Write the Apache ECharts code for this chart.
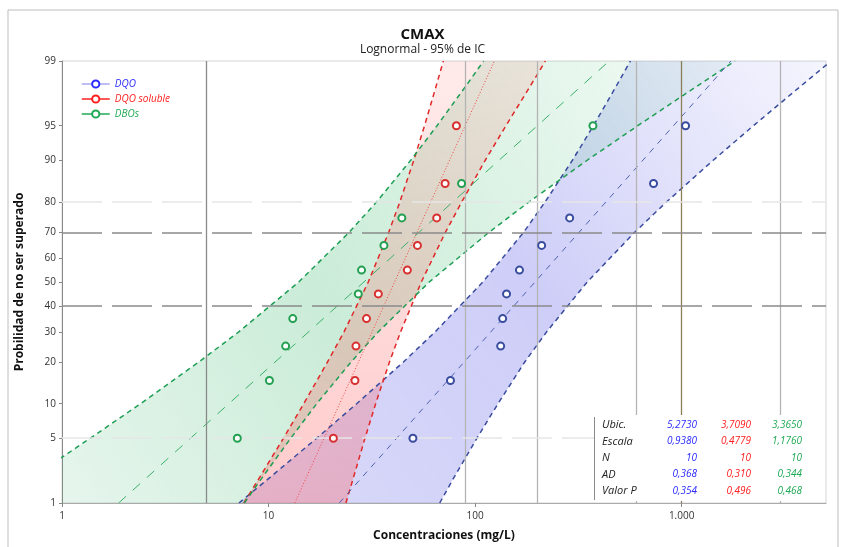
<!DOCTYPE html>
<html>
<head>
<meta charset="utf-8">
<title>CMAX</title>
<script src="https://cdn.jsdelivr.net/npm/echarts@6/dist/echarts.min.js"></script>
<style>
html, body { margin: 0; padding: 0; background: #fff; }
#main { width: 845px; height: 547px; }
</style>
</head>
<body>
<div id="main"></div>
<script>
// probabilidad (%) de cada punto
var probPuntos = [5, 15, 25, 35, 45, 55, 65, 75, 85, 95];
var dqo = [50, 76, 133, 136, 142, 164, 210, 287, 731, 1045];
var dqoSoluble = [20.6, 26.2, 26.5, 29.8, 34.0, 47.0, 52.6, 65.2, 71.6, 81.2];
var dbos = [7.06, 10.1, 12.1, 13.1, 27.2, 28.2, 36.2, 44.2, 86.0, 372];

var probAjuste = [1, 99];
var ajusteDqo = [22.0, 1730];
var ajusteSoluble = [13.4, 124];
var ajusteDbos = [1.88, 446];

// limites del IC 95%
var probBanda = [1, 2, 5, 10, 20, 30, 50, 70, 80, 90, 95, 98, 99];
var dqoInf = [7.19, 10.2, 17.1, 26.7, 45.0, 64.1, 109, 172, 218, 296, 374, 480, 565];
var dqoSup = [67.4, 79.2, 102, 129, 174, 222, 349, 593, 844, 1422, 2226, 3733, 5289];
var solInf = [7.59, 9.07, 11.8, 14.8, 19.3, 23.2, 30.4, 38.2, 43.2, 50.5, 56.9, 64.6, 70.2];
var solSup = [23.7, 25.8, 29.3, 33.0, 38.5, 43.6, 54.9, 71.9, 86.1, 112, 141, 184, 219];
var dbosInf = [0.46, 0.72, 1.37, 2.40, 4.60, 7.18, 14.0, 24.6, 33.3, 48.8, 65.4, 89.6, 110];
var dbosSup = [7.64, 9.35, 12.8, 17.1, 25.1, 34.0, 60.0, 117, 182, 349, 613, 1172, 1815];

var ticksY = [1, 5, 10, 20, 30, 40, 50, 60, 70, 80, 90, 95, 99];
var lineasX = [5, 90, 200, 600, 1000, 3000];
var lineasY = [80, 70, 40, 5];

var filasTabla = ['Ubic.', 'Escala', 'N', 'AD', 'Valor P'];
var tablaDqo = ['5,2730', '0,9380', '10', '0,368', '0,354'];
var tablaSoluble = ['3,7090', '0,4779', '10', '0,310', '0,496'];
var tablaDbos = ['3,3650', '1,1760', '10', '0,344', '0,468'];

// escala de probabilidad normal: % -> z
function zOf(p) {
    var q = p / 100;
    var a = [-39.69683028665376, 220.9460984245205, -275.9285104469687, 138.3577518672690, -30.66479806614716, 2.506628277459239];
    var b = [-54.47609879822406, 161.5858368580409, -155.6989798598866, 66.80131188771972, -13.28068155288572];
    var c = [-0.007784894002430293, -0.3223964580411365, -2.400758277161838, -2.549732539343734, 4.374664141464968, 2.938163982698783];
    var d = [0.007784695709041462, 0.3224671290700398, 2.445134137142996, 3.754408661907416];
    var s, r;
    if (q < 0.02425 || q > 0.97575) {
        s = Math.sqrt(-2 * Math.log(q < 0.5 ? q : 1 - q));
        r = (((((c[0] * s + c[1]) * s + c[2]) * s + c[3]) * s + c[4]) * s + c[5]) /
            ((((d[0] * s + d[1]) * s + d[2]) * s + d[3]) * s + 1);
        return q < 0.5 ? r : -r;
    }
    s = q - 0.5;
    r = s * s;
    return (((((a[0] * r + a[1]) * r + a[2]) * r + a[3]) * r + a[4]) * r + a[5]) * s /
        (((((b[0] * r + b[1]) * r + b[2]) * r + b[3]) * r + b[4]) * r + 1);
}

function pares(xs, ps) {
    return xs.map(function (x, i) { return [x, zOf(ps[i])]; });
}

var AZUL = '#3a4c9e', ROJO = '#e02828', VERDE = '#1f9e55';
var grad = echarts.graphic.LinearGradient;

function banda(nombre, inf, sup, fill) {
    return {
        type: 'custom', name: nombre, silent: true, clip: true, z: 2,
        data: [[10, 0]],
        renderItem: function (params, api) {
            var pts = [];
            for (var i = 0; i < probBanda.length; i++) pts.push(api.coord([inf[i], zOf(probBanda[i])]));
            for (var j = probBanda.length - 1; j >= 0; j--) pts.push(api.coord([sup[j], zOf(probBanda[j])]));
            return { type: 'polygon', shape: { points: pts }, style: { fill: fill } };
        }
    };
}

function borde(nombre, xs, color) {
    return {
        type: 'line', name: nombre, data: pares(xs, probBanda), symbol: 'none', silent: true, z: 3,
        lineStyle: { color: color, width: 1.5, type: [5, 4] }
    };
}

function ajuste(nombre, xs, color, tipo, ancho) {
    return {
        type: 'line', name: nombre, data: pares(xs, probAjuste), symbol: 'none', silent: true, z: 3,
        lineStyle: { color: color, width: ancho, type: tipo }
    };
}

function puntos(nombre, xs, color) {
    return {
        type: 'line', name: nombre, data: pares(xs, probPuntos), z: 5,
        symbol: 'emptyCircle', symbolSize: 7, showSymbol: true,
        lineStyle: { width: 0, opacity: 0 },
        itemStyle: { color: color, borderWidth: 1.5 }
    };
}

var myChart = echarts.init(document.getElementById('main'));

var refLines = [];
lineasX.forEach(function (v) {
    refLines.push({
        xAxis: v,
        lineStyle: { color: v === 1000 ? '#8c7f58' : (v === 5 ? '#8a8a8a' : '#b4b4b4'), width: 1.3, type: 'solid' }
    });
});
lineasY.forEach(function (v) {
    var fuerte = (v === 70 || v === 40);
    refLines.push({
        yAxis: zOf(v),
        lineStyle: { color: fuerte ? '#8a8a8a' : '#e6e6e6', width: 1.5, type: [40, 10] }
    });
});

// cuadro de estadisticos (encima de las series)
var tabla = [
    { type: 'rect', z: 100, shape: { x: 595, y: 415, width: 230, height: 86 }, style: { fill: '#fff' } },
    { type: 'line', z: 101, shape: { x1: 594.5, y1: 417, x2: 594.5, y2: 500 }, style: { stroke: '#8a8a8a', lineWidth: 1 } }
];
filasTabla.forEach(function (t, i) {
    var y = 425 + i * 16.5;
    tabla.push({ type: 'text', z: 101, x: 602, y: y, style: { text: t, fill: '#222', font: 'italic 11px "Open Sans"', verticalAlign: 'middle' } });
    tabla.push({ type: 'text', z: 101, x: 697, y: y, style: { text: tablaDqo[i], fill: '#2b2bff', font: 'italic 10px "Open Sans"', align: 'right', verticalAlign: 'middle' } });
    tabla.push({ type: 'text', z: 101, x: 751, y: y, style: { text: tablaSoluble[i], fill: '#ff2020', font: 'italic 10px "Open Sans"', align: 'right', verticalAlign: 'middle' } });
    tabla.push({ type: 'text', z: 101, x: 802, y: y, style: { text: tablaDbos[i], fill: '#1faa55', font: 'italic 10px "Open Sans"', align: 'right', verticalAlign: 'middle' } });
});

var option = {
    animation: false,
    title: {
        text: 'CMAX',
        subtext: 'Lognormal - 95% de IC',
        left: 'center',
        top: 22,
        itemGap: 2,
        textStyle: { fontFamily: 'Open Sans', fontSize: 15, fontWeight: 'bold', color: '#111' },
        subtextStyle: { fontFamily: 'Open Sans', fontSize: 12, color: '#222' }
    },
    legend: {
        orient: 'vertical',
        left: 76,
        top: 74,
        itemGap: 5,
        itemWidth: 28,
        itemHeight: 9,
        textStyle: { fontFamily: 'Open Sans', fontSize: 10, fontStyle: 'italic' },
        data: [
            { name: 'DQO', textStyle: { color: '#2b2bff' }, lineStyle: { width: 1.5, opacity: 1, color: '#a9abf2' }, itemStyle: { color: '#2b2bff' } },
            { name: 'DQO soluble', textStyle: { color: '#ff2020' }, lineStyle: { width: 1.5, opacity: 1, color: '#ff2020' }, itemStyle: { color: '#ff2020' } },
            { name: 'DBOs', textStyle: { color: '#1faa55' }, lineStyle: { width: 1.5, opacity: 1, color: '#1faa55' }, itemStyle: { color: '#1faa55' } }
        ]
    },
    grid: { left: 62, right: 19, top: 61, bottom: 38, show: true, borderColor: '#d6d6d6', borderWidth: 1 },
    xAxis: {
        type: 'log',
        logBase: 10,
        min: 1,
        max: 5000,
        name: 'Concentraciones (mg/L)',
        nameLocation: 'middle',
        nameGap: 27,
        nameTextStyle: { fontFamily: 'Open Sans', fontSize: 12, fontWeight: 'bold', color: '#111' },
        axisLine: { onZero: false, lineStyle: { color: '#aaa' } },
        axisTick: { length: 4, lineStyle: { color: '#888' } },
        axisLabel: {
            fontFamily: 'Open Sans', fontSize: 10, color: '#333', margin: 8, showMaxLabel: false,
            formatter: function (v) { return v >= 1000 ? '1.000' : String(v); }
        },
        splitLine: { show: false },
        minorTick: { show: false }
    },
    yAxis: {
        type: 'value',
        min: zOf(1),
        max: zOf(99),
        name: 'Probilidad de no ser superado',
        nameLocation: 'middle',
        nameGap: 36,
        nameTextStyle: { fontFamily: 'Open Sans', fontSize: 12, fontWeight: 'bold', color: '#111' },
        axisLine: { show: true, onZero: false, lineStyle: { color: '#888' } },
        axisTick: { show: true, length: 3, customValues: ticksY.map(zOf), lineStyle: { color: '#888' } },
        axisLabel: {
            fontFamily: 'Open Sans', fontSize: 10, color: '#333', margin: 6,
            customValues: ticksY.map(zOf),
            formatter: function (v) {
                var best = ticksY[0];
                ticksY.forEach(function (t) { if (Math.abs(zOf(t) - v) < Math.abs(zOf(best) - v)) best = t; });
                return String(best);
            }
        },
        splitLine: { show: false }
    },
    graphic: [
        { type: 'rect', z: -10, shape: { x: 8, y: 10, width: 830, height: 560 }, style: { fill: 'none', stroke: '#bdbdbd', lineWidth: 1 } }
    ].concat(tabla),
    series: [
        {
            type: 'line', name: 'ref', data: [], silent: true, z: 1,
            markLine: { silent: true, symbol: 'none', label: { show: false }, data: refLines, animation: false }
        },
        banda('DQO IC', dqoInf, dqoSup, new grad(0, 1, 1, 0, [
            { offset: 0, color: 'rgba(120,120,235,0.28)' },
            { offset: 0.5, color: 'rgba(110,110,235,0.34)' },
            { offset: 1, color: 'rgba(130,130,240,0.08)' }
        ])),
        banda('DBOs IC', dbosInf, dbosSup, new grad(0, 1, 1, 0, [
            { offset: 0, color: 'rgba(60,180,110,0.10)' },
            { offset: 0.45, color: 'rgba(60,185,110,0.27)' },
            { offset: 1, color: 'rgba(60,190,110,0.06)' }
        ])),
        banda('DQO soluble IC', solInf, solSup, new grad(0, 1, 0, 0, [
            { offset: 0, color: 'rgba(255,90,90,0.32)' },
            { offset: 1, color: 'rgba(255,110,110,0.14)' }
        ])),
        borde('DQO inf', dqoInf, AZUL),
        borde('DQO sup', dqoSup, AZUL),
        borde('DQO soluble inf', solInf, ROJO),
        borde('DQO soluble sup', solSup, ROJO),
        borde('DBOs inf', dbosInf, VERDE),
        borde('DBOs sup', dbosSup, VERDE),
        ajuste('DQO ajuste', ajusteDqo, '#5062b0', [6, 6], 1),
        ajuste('DQO soluble ajuste', ajusteSoluble, '#ee4444', [1, 2], 1),
        ajuste('DBOs ajuste', ajusteDbos, '#3cb06a', [10, 9], 1),
        puntos('DQO', dqo, AZUL),
        puntos('DQO soluble', dqoSoluble, '#d83030'),
        puntos('DBOs', dbos, '#23a052')
    ]
};
myChart.setOption(option);
</script>
</body>
</html>
